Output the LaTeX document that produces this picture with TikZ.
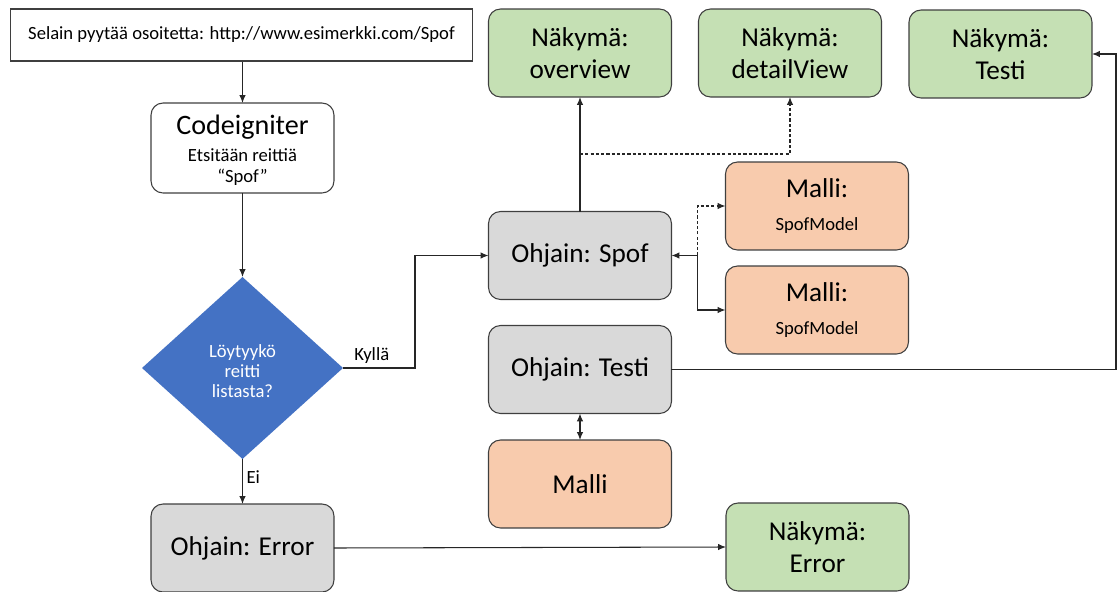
\documentclass[tikz,border=0pt]{standalone}
\usepackage{fontspec}
\setmainfont{Carlito}
\usetikzlibrary{shapes.geometric,arrows.meta}

\definecolor{viewgreen}{HTML}{C5E0B4}
\definecolor{ctrlgray}{HTML}{D9D9D9}
\definecolor{modelorange}{HTML}{F8CBAD}
\definecolor{decblue}{HTML}{4472C4}
\definecolor{boxline}{HTML}{3F3F3F}
\definecolor{linecol}{HTML}{262626}

\newcommand\bigtxt{\fontsize{15.5}{18.3}\selectfont}
\newcommand\smalltxt{\fontsize{10.6}{12.4}\selectfont}

\tikzset{
  box/.style={draw=boxline, line width=0.6pt, rounded corners=0.24cm,
    minimum width=3.66cm, minimum height=1.76cm, inner sep=0pt, outer sep=0pt,
    align=center, font=\bigtxt, text=black},
  view/.style={box, fill=viewgreen},
  ctrl/.style={box, fill=ctrlgray},
  model/.style={box, fill=modelorange},
  link/.style={line width=0.6pt, draw=linecol, -{Latex[length=0.16cm,width=0.13cm]}},
  dashlink/.style={link, dash pattern=on 1.8pt off 1.2pt},
  twoway/.style={line width=0.6pt, draw=linecol,
    {Latex[length=0.16cm,width=0.13cm]}-{Latex[length=0.16cm,width=0.13cm]}},
  lbl/.style={font=\smalltxt, text=black, inner sep=2pt},
}

\begin{document}
\begin{tikzpicture}[x=0.02cm, y=-0.02cm]
\useasboundingbox (0,0) rectangle (1117,592);

% request and router
\node[draw=boxline, line width=0.6pt, fill=white, minimum width=9.26cm, minimum height=1.04cm,
  inner sep=0pt, font=\smalltxt] (req) at (241.5,35)
  {Selain pyytää osoitetta: http://www.esimerkki.com/Spof};
\node[box, fill=white, minimum height=1.8cm] (ci) at (242.5,148) {};
\node[font=\fontsize{16}{17}\selectfont, inner sep=0pt] (cititle) at (242.5,127) {Codeigniter};
\node[font=\smalltxt, align=center, inner sep=0pt] (cisub) at (242.5,167) {Etsitään reittiä\\“Spof”};
\node[diamond, fill=decblue, minimum width=4.02cm, minimum height=3.64cm, inner sep=0pt,
  outer sep=0pt, align=center, text=white, font=\smalltxt] (dec) at (242.5,368) {};
\node[font=\fontsize{10.6}{11.6}\selectfont, text=white, align=center, inner sep=0pt] (dectext) at (242.5,371)
  {Löytyykö\\reitti\\listasta?};

% controllers
\node[ctrl] (spof) at (580,255.5) {Ohjain: Spof};
\node[ctrl] (testc) at (580,369.5) {Ohjain: Testi};
\node[ctrl] (err) at (242.5,548) {Ohjain: Error};

% models
\node[model] (m1) at (817,206) {Malli:\\[0pt]{\smalltxt SpofModel}};
\node[model] (m2) at (817,310) {Malli:\\[0pt]{\smalltxt SpofModel}};
\node[model] (mtest) at (580,484) {Malli};

% views
\node[view] (over) at (580,53) {Näkymä:\\overview};
\node[view] (detail) at (790,53) {Näkymä:\\detailView};
\node[view] (vtest) at (1000.5,54) {Näkymä:\\Testi};
\node[view] (verr) at (817.5,547) {Näkymä:\\Error};

% flow
\draw[link] (ci.north |- req.south) -- (ci.north);
\draw[link] (ci.south) -- (dec.north);
\draw[link] (dec.south) -- node[lbl, right, pos=0.4] {Ei} (err.north);
\coordinate (kbend) at (415,368);
\draw[link] (dec.east) -- node[lbl, above, pos=0.4] {Kyllä} (kbend) |- (spof.west);

% Spof controller to its views
\draw[link] (spof.north) -- (over.south);
\coordinate (jd) at (580,154);
\draw[dashlink] (jd) -| (detail.south);

% Spof controller and its models
\coordinate (jm) at ([xshift=0.52cm]spof.east);
\draw[link] (jm) -- (spof.east);
\draw[dashlink] (jm) |- (m1.west);
\draw[link] (jm) |- (m2.west);

% Testi controller
\draw[twoway] (testc.south) -- (mtest.north);
\coordinate (rt) at (1116,369.5);
\draw[link] (testc.east) -- (rt) |- (vtest.east);

% Error controller
\draw[link] (err.east) -- (verr.west);
\end{tikzpicture}
\end{document}
